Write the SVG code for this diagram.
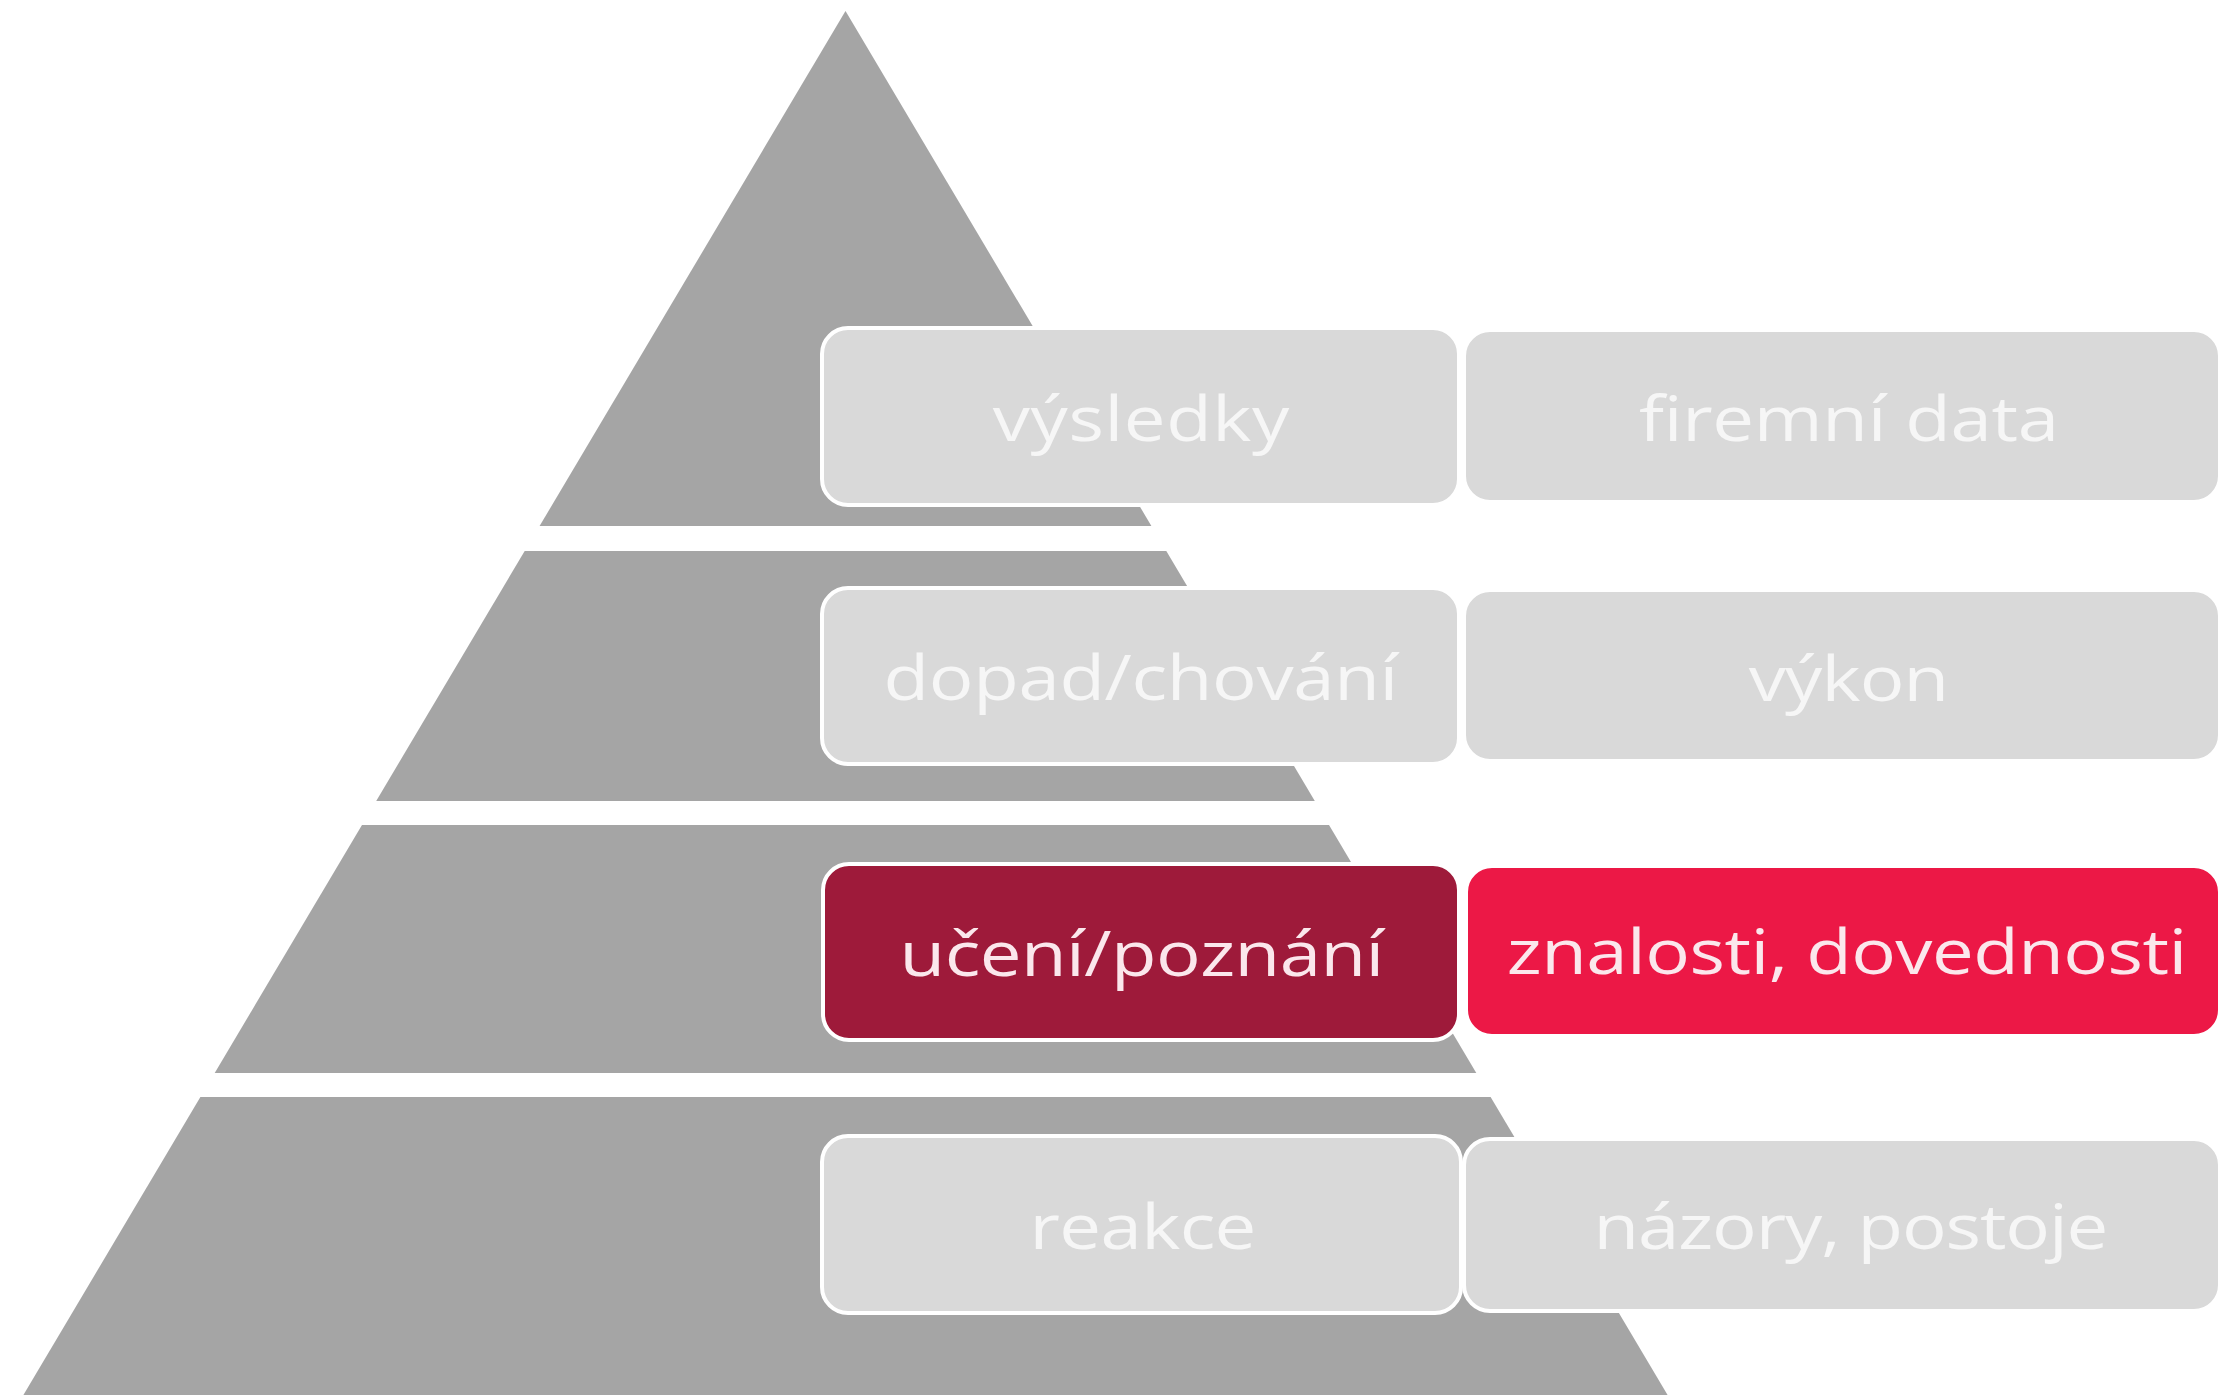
<svg xmlns="http://www.w3.org/2000/svg" width="2223" height="1395" viewBox="0 0 2223 1395">
  <style>
    .band { fill: #a5a5a5; }
    .box { stroke: #ffffff; stroke-width: 4; }
    .grey { fill: #d9d9d9; }
    .dark { fill: #9e1a3a; }
    .red { fill: #ec1846; }
    .lbl { font-family: "Open Sans", Lato, "Liberation Sans", sans-serif; font-weight: 400; font-size: 62px; text-anchor: middle; fill: #ffffff; font-variant-ligatures: none; }
    .lbl-grey { fill: #f6f6f6; }
    .lbl-red { fill: #fbe7ec; }
  </style>
  <rect x="0" y="0" width="2223" height="1395" fill="#ffffff"/>
  <g id="pyramid">
    <polygon class="band" points="845.5,11 1151.4,526 539.6,526"/>
    <polygon class="band" points="524.7,551 1166.3,551 1314.8,801 376.2,801"/>
    <polygon class="band" points="362,825 1329,825 1476.3,1073 214.7,1073"/>
    <polygon class="band" points="200.4,1097 1490.6,1097 1667.6,1395 23.4,1395"/>
  </g>
  <g id="vysledky">
    <rect class="box grey" x="822" y="328" width="637" height="177" rx="26"/>
    <text class="lbl lbl-grey" transform="translate(1141,441) scale(1.2,1)" textLength="247" lengthAdjust="spacing">výsledky</text>
  </g>
  <g id="firemni-data">
    <rect class="box grey" x="1464" y="330" width="756" height="172" rx="26"/>
    <text class="lbl lbl-grey" transform="translate(1849,441) scale(1.2,1)" textLength="350" lengthAdjust="spacing">firemní data</text>
  </g>
  <g id="dopad-chovani">
    <rect class="box grey" x="822" y="588" width="637" height="176" rx="26"/>
    <text class="lbl lbl-grey" transform="translate(1141,700) scale(1.2,1)" textLength="429" lengthAdjust="spacing">dopad/chování</text>
  </g>
  <g id="vykon">
    <rect class="box grey" x="1464" y="590" width="756" height="171" rx="26"/>
    <text class="lbl lbl-grey" transform="translate(1849,701) scale(1.2,1)" textLength="167" lengthAdjust="spacing">výkon</text>
  </g>
  <g id="uceni-poznani">
    <rect class="box dark" x="823" y="864" width="636" height="176" rx="26"/>
    <text class="lbl lbl-red" transform="translate(1142,976) scale(1.2,1)" textLength="404" lengthAdjust="spacing">učení/poznání</text>
  </g>
  <g id="znalosti-dovednosti">
    <rect class="box red" x="1466" y="866" width="754" height="170" rx="26"/>
    <text class="lbl lbl-red" transform="translate(1847,974) scale(1.2,1)" textLength="567" lengthAdjust="spacing">znalosti, dovednosti</text>
  </g>
  <g id="reakce">
    <rect class="box grey" x="822" y="1136" width="639" height="177" rx="26"/>
    <text class="lbl lbl-grey" transform="translate(1143,1249) scale(1.2,1)" textLength="189" lengthAdjust="spacing">reakce</text>
  </g>
  <g id="nazory-postoje">
    <rect class="box grey" x="1464" y="1139" width="756" height="172" rx="26"/>
    <text class="lbl lbl-grey" transform="translate(1851,1249) scale(1.2,1)" textLength="429" lengthAdjust="spacing">názory, postoje</text>
  </g>
</svg>
